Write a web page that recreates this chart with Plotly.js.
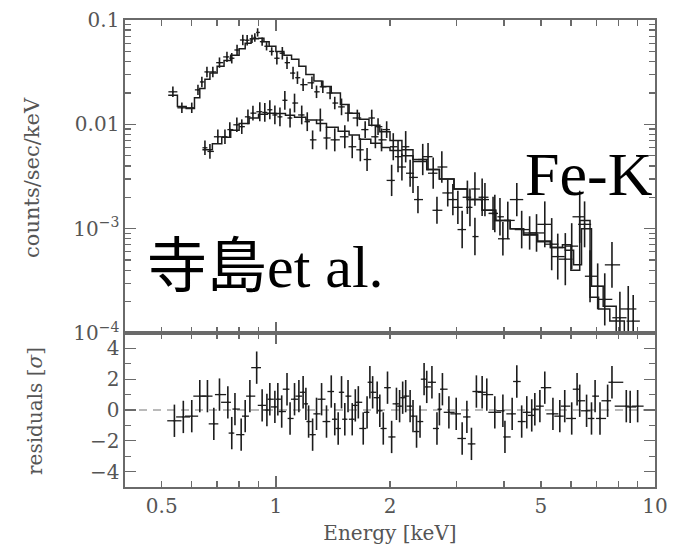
<!DOCTYPE html>
<html>
<head>
<meta charset="utf-8">
<script src="https://cdn.plot.ly/plotly-3.0.1.min.js"></script>
<style>html,body{margin:0;padding:0;background:#fff;}#chart{width:673px;height:545px;}</style>
</head>
<body>
<div id="chart"></div>
<script>
// ---- Spectrum data, instrument A (upper curve) ----
const eA = [0.535,0.565,0.60,0.623,0.638,0.658,0.682,0.71,0.743,0.765,0.79,0.818,0.84,0.865,0.88,0.895,0.92,0.945,0.975,1.006,1.04,1.07,1.11,1.14,1.18,1.245,1.28,1.33,1.39,1.43,1.49,1.55,1.64,1.72,1.79,1.86,1.96,2.04,2.15,2.26,2.37,2.52,2.66,2.84,3.02,3.2,3.35,3.56,3.74,3.97,4.32,4.67,5.12,5.54,6.03,6.52,7.06,7.7,8.5];
const vA = [0.0205,0.0144,0.0144,0.0214,0.0255,0.0318,0.0318,0.039,0.0443,0.043,0.0516,0.0643,0.064,0.066,0.068,0.076,0.062,0.056,0.05,0.043,0.048,0.039,0.031,0.028,0.024,0.025,0.0205,0.0229,0.02,0.016,0.0147,0.0128,0.0115,0.0089,0.0115,0.0095,0.0089,0.0061,0.0039,0.0034,0.0019,0.0049,0.0015,0.0022,0.0016,0.0020,0.0024,0.0019,0.0014,0.0008,0.0019,0.00091,0.0011,0.00054,0.00068,0.0011,0.00028,0.00045,0.00017];
// half error bar length in decades
const dA = [0.05,0.05,0.05,0.05,0.05,0.05,0.05,0.05,0.05,0.05,0.05,0.05,0.05,0.04,0.04,0.04,0.04,0.04,0.04,0.06,0.06,0.06,0.06,0.06,0.06,0.06,0.06,0.06,0.06,0.06,0.08,0.08,0.08,0.08,0.08,0.08,0.08,0.13,0.13,0.13,0.13,0.13,0.13,0.13,0.16,0.16,0.16,0.16,0.16,0.16,0.16,0.16,0.22,0.22,0.22,0.22,0.22,0.22,0.22];

// ---- Spectrum data, instrument B (lower curve) ----
const eB = [0.65,0.67,0.703,0.734,0.756,0.789,0.813,0.844,0.87,0.907,0.935,0.964,0.994,1.025,1.056,1.09,1.12,1.17,1.21,1.25,1.31,1.36,1.43,1.52,1.59,1.67,1.74,1.83,1.9,2.02,2.1,2.2,2.3,2.44,2.6,2.74,2.93,3.1,3.25,3.35,3.5,3.78,3.9,4.09,4.45,4.87,5.34,5.8,6.33,6.74,7.37,8.08,8.76];
const vB = [0.00596,0.0055,0.0076,0.0076,0.0089,0.0099,0.0095,0.0118,0.0128,0.0132,0.013,0.0138,0.0123,0.0118,0.017,0.0115,0.016,0.0123,0.0106,0.0071,0.011,0.0074,0.0071,0.0076,0.0061,0.0057,0.0046,0.0076,0.0071,0.0029,0.0049,0.0061,0.0031,0.0046,0.0034,0.0039,0.0019,0.00098,0.0016,0.00084,0.0020,0.0014,0.0013,0.0012,0.00098,0.00091,0.00071,0.00051,0.0013,0.00035,0.00021,0.00014,0.00013];
const dB = [0.07,0.07,0.07,0.07,0.07,0.07,0.07,0.07,0.07,0.09,0.09,0.09,0.09,0.09,0.09,0.09,0.09,0.09,0.09,0.09,0.11,0.11,0.11,0.11,0.11,0.11,0.11,0.11,0.11,0.15,0.15,0.15,0.15,0.15,0.15,0.15,0.15,0.18,0.18,0.18,0.18,0.18,0.18,0.18,0.18,0.18,0.25,0.25,0.25,0.25,0.25,0.25,0.25];

// ---- Model (step) curves: bin start energies and values ----
const mAe = [0.52,0.55,0.58,0.61,0.63,0.65,0.67,0.70,0.73,0.76,0.80,0.83,0.86,0.90,0.93,0.96,1.0,1.05,1.1,1.15,1.2,1.26,1.32,1.4,1.48,1.56,1.66,1.76,1.88,2.0,2.15,2.3,2.5,2.7,2.95,3.2,3.5,3.8,4.15,4.5,4.9,5.3,5.7,6.0,6.33,6.74,7.1,7.6,8.3,8.9];
const mAv = [0.019,0.0148,0.0142,0.018,0.022,0.027,0.031,0.036,0.041,0.046,0.053,0.06,0.066,0.067,0.062,0.056,0.05,0.046,0.042,0.036,0.030,0.026,0.023,0.020,0.0155,0.0128,0.0112,0.0098,0.0085,0.0070,0.0057,0.0046,0.0037,0.0030,0.0024,0.0019,0.0015,0.0012,0.0010,0.00088,0.00076,0.00066,0.00070,0.00040,0.0012,0.00022,0.00017,0.00013,0.00010,0.00010];
const mBe = [0.64,0.68,0.72,0.76,0.80,0.85,0.90,0.95,1.0,1.06,1.12,1.2,1.28,1.36,1.46,1.56,1.66,1.78,1.9,2.0,2.15,2.3,2.5,2.7,2.95,3.2,3.5,3.8,4.15,4.5,4.9,5.3,5.8,6.1,6.4,6.8,7.3,7.9,9.0];
const mBv = [0.0057,0.0065,0.0075,0.0088,0.0102,0.0115,0.0125,0.0128,0.0127,0.0122,0.0117,0.0110,0.0102,0.0094,0.0086,0.0079,0.0072,0.0066,0.0060,0.0056,0.0050,0.0044,0.0037,0.0030,0.0024,0.0019,0.0015,0.0012,0.0010,0.00087,0.00075,0.00066,0.00062,0.00045,0.0010,0.00028,0.00018,0.000095,0.000095];

// ---- Residuals [sigma] ----
const eR = [0.54,0.57,0.6,0.63,0.66,0.686,0.71,0.747,0.765,0.78,0.81,0.83,0.854,0.89,0.92,0.947,0.964,0.994,1.012,1.036,1.07,1.09,1.12,1.15,1.18,1.2,1.22,1.25,1.28,1.32,1.36,1.4,1.43,1.46,1.49,1.52,1.55,1.59,1.62,1.65,1.7,1.74,1.77,1.8,1.85,1.88,1.92,1.97,2.02,2.08,2.12,2.16,2.2,2.26,2.3,2.35,2.4,2.46,2.5,2.58,2.66,2.7,2.75,2.86,2.99,3.1,3.19,3.28,3.38,3.5,3.6,3.78,3.97,4.02,4.2,4.32,4.45,4.59,4.73,4.82,4.97,5.12,5.38,5.61,5.78,6.03,6.23,6.33,6.6,6.8,6.95,7.16,7.5,7.7,8.4,8.6,9.0];
const rR = [-0.7,-0.45,-0.4,0.9,0.9,-0.9,1.0,0.5,-1.5,0.06,-1.6,-0.4,0.9,2.75,0.3,0.0,0.7,0.2,0.7,-0.1,1.35,-0.55,0.7,0.9,1.15,0.4,-0.75,-1.6,-0.25,0.7,-0.75,1.2,-0.6,-1.2,1.15,-0.6,0.9,-0.6,0.3,0.5,-1.2,-0.15,1.8,1.15,0.8,-0.05,-1.2,1.45,-1.75,0.4,0.25,0.8,0.9,0.25,-0.4,-1.4,-0.75,2.0,1.5,1.8,-1.2,0.05,1.35,-0.15,-0.25,-1.85,-0.45,-2.2,1.2,1.15,1.0,-0.15,-0.05,-1.75,-0.25,1.85,-0.75,-0.15,-0.35,0.05,0.25,1.45,-0.25,-0.4,0.25,-0.55,1.35,0.6,-0.05,-0.55,0.9,-0.55,0.6,1.8,0.25,0.2,0.25];

// ---- Tick labels ----
const xTickVals = [0.5,1,2,5,10];
const xTickText = ['0.5','1','2','5','10'];
const yTickVals = [1e-4,1e-3,1e-2,0.1];
const yTickText = ['10<sup>\u22124</sup>','10<sup>\u22123</sup>','0.01','0.1'];
const rTickVals = [-4,-2,0,2,4];
const rTickText = ['\u22124','\u22122','0','2','4'];

// ---- helpers built from the arrays above ----
function xErr(e){ // half distance (geometric) to neighbouring bins
  const plus=[],minus=[];
  for(let i=0;i<e.length;i++){
    const lo = i>0 ? Math.sqrt(e[i-1]*e[i]) : e[i]*e[i]/Math.sqrt(e[i]*e[i+1]);
    const hi = i<e.length-1 ? Math.sqrt(e[i]*e[i+1]) : e[i]*e[i]/Math.sqrt(e[i-1]*e[i]);
    minus.push(e[i]-lo); plus.push(hi-e[i]);
  }
  return {plus,minus};
}
function yErr(v,d){
  return {plus:v.map((y,i)=>y*(Math.pow(10,d[i])-1)), minus:v.map((y,i)=>y*(1-Math.pow(10,-d[i])))};
}
const ink = '#1c1c1c';
const axisCol = '#6a6a6a';
const txtCol = '#555555';
function dataTrace(e,v,d,xa,ya){
  const xe=xErr(e), ye=yErr(v,d);
  return {x:e,y:v,xaxis:xa,yaxis:ya,type:'scatter',mode:'markers',
    marker:{size:2,color:ink},
    error_x:{type:'data',symmetric:false,array:xe.plus,arrayminus:xe.minus,width:0,thickness:1.3,color:ink},
    error_y:{type:'data',symmetric:false,array:ye.plus,arrayminus:ye.minus,width:0,thickness:1.6,color:ink},
    hoverinfo:'skip',showlegend:false};
}
const xeR = xErr(eR);
const traces = [
  dataTrace(eA,vA,dA,'x','y'),
  dataTrace(eB,vB,dB,'x','y'),
  {x:mAe,y:mAv,xaxis:'x',yaxis:'y',type:'scatter',mode:'lines',line:{shape:'hv',color:ink,width:1.5},showlegend:false,hoverinfo:'skip'},
  {x:mBe,y:mBv,xaxis:'x',yaxis:'y',type:'scatter',mode:'lines',line:{shape:'hv',color:ink,width:1.5},showlegend:false,hoverinfo:'skip'},
  {x:[0.4,10],y:[0,0],xaxis:'x2',yaxis:'y2',type:'scatter',mode:'lines',line:{color:'#777',width:1.2,dash:'8px,6px'},showlegend:false,hoverinfo:'skip'},
  {x:eR,y:rR,xaxis:'x2',yaxis:'y2',type:'scatter',mode:'markers',marker:{size:2,color:ink},
    error_x:{type:'data',symmetric:false,array:xeR.plus.map(v=>v*1.6),arrayminus:xeR.minus.map(v=>v*1.6),width:0,thickness:1.3,color:ink},
    error_y:{type:'data',array:eR.map(()=>1.05),width:0,thickness:1.6,color:ink},showlegend:false,hoverinfo:'skip'},
  {x:[null],y:[null],xaxis:'x3',yaxis:'y2',type:'scatter',mode:'markers',showlegend:false,hoverinfo:'skip'}
];

const font = {family:'DejaVu Serif, serif', size:20, color:txtCol};
const xRange = [Math.log10(0.4), 1];
const xMinor = [0.6,0.7,0.8,0.9,3,4,6,7,8,9];
const yMinor = [];
[1e-4,1e-3,1e-2].forEach(d=>{for(let k=2;k<=9;k++) yMinor.push(k*d);});
const baseAx = {showgrid:false,zeroline:false,showline:true,linecolor:axisCol,linewidth:1.6,
  ticks:'inside',tickcolor:axisCol,tickwidth:1.3,mirror:'ticks',tickfont:font};
const split = (487-333)/467;

const layout = {
  width:673,height:545,
  margin:{l:125,r:18,t:20,b:58},
  paper_bgcolor:'#fff',plot_bgcolor:'#fff',
  font:font,
  showlegend:false,
  xaxis:Object.assign({},baseAx,{type:'log',range:xRange,anchor:'y',tickmode:'array',tickvals:[1,10],ticklen:11,showticklabels:false,
    minor:{tickmode:'array',tickvals:[0.5].concat(xMinor).concat([2,5]),ticks:'inside',ticklen:6,tickcolor:axisCol,tickwidth:1.3}}),
  yaxis:Object.assign({},baseAx,{type:'log',range:[-4,-1],domain:[split,1],anchor:'x',tickmode:'array',tickvals:yTickVals,ticktext:yTickText,ticklen:11,
    minor:{tickmode:'array',tickvals:yMinor,ticks:'inside',ticklen:6,tickcolor:axisCol,tickwidth:1.3}}),
  xaxis2:Object.assign({},baseAx,{type:'log',range:xRange,anchor:'y2',tickmode:'array',tickvals:xTickVals,ticktext:xTickText,ticklen:6,
    minor:{tickmode:'array',tickvals:xMinor,ticks:'inside',ticklen:6,tickcolor:axisCol,tickwidth:1.3},
    title:{text:'Energy [keV]',font:{family:'DejaVu Serif, serif',size:20,color:txtCol},standoff:11}}),
  xaxis3:{type:'log',range:xRange,overlaying:'x2',anchor:'y2',tickmode:'array',tickvals:[1,10],ticks:'inside',ticklen:11,tickcolor:axisCol,tickwidth:1.3,
    mirror:'ticks',showline:false,showgrid:false,zeroline:false,showticklabels:false},
  yaxis2:Object.assign({},baseAx,{range:[-5,5],domain:[0,split],anchor:'x2',tickmode:'array',tickvals:rTickVals,ticktext:rTickText,ticklen:11,
    minor:{tickmode:'array',tickvals:[-3,-1,1,3],ticks:'inside',ticklen:6,tickcolor:axisCol,tickwidth:1.3}}),
  annotations:[
    {xref:'paper',yref:'paper',x:(32-125)/530,y:(487-178)/467,text:'counts/sec/keV',textangle:-90,showarrow:false,xanchor:'center',yanchor:'middle',
      font:{family:'DejaVu Serif, serif',size:21,color:txtCol}},
    {xref:'paper',yref:'paper',x:(35-125)/530,y:(487-411)/467,text:'residuals [<i>\u03c3</i>]',textangle:-90,showarrow:false,xanchor:'center',yanchor:'middle',
      font:{family:'DejaVu Serif, serif',size:20,color:txtCol}},
    {xref:'paper',yref:'paper',x:1,y:(487-174)/467,text:'Fe-K',showarrow:false,xanchor:'right',yanchor:'middle',
      font:{family:'Liberation Serif, serif',size:62,color:'#000'}},
    {xref:'paper',yref:'paper',x:(145-125)/530,y:(487-267)/467,text:'寺島et al.',showarrow:false,xanchor:'left',yanchor:'middle',
      font:{family:'Liberation Serif, Noto Sans CJK JP, serif',size:60,color:'#000'}}
  ]
};
Plotly.newPlot('chart',traces,layout,{staticPlot:true,displayModeBar:false});
</script>
</body>
</html>
